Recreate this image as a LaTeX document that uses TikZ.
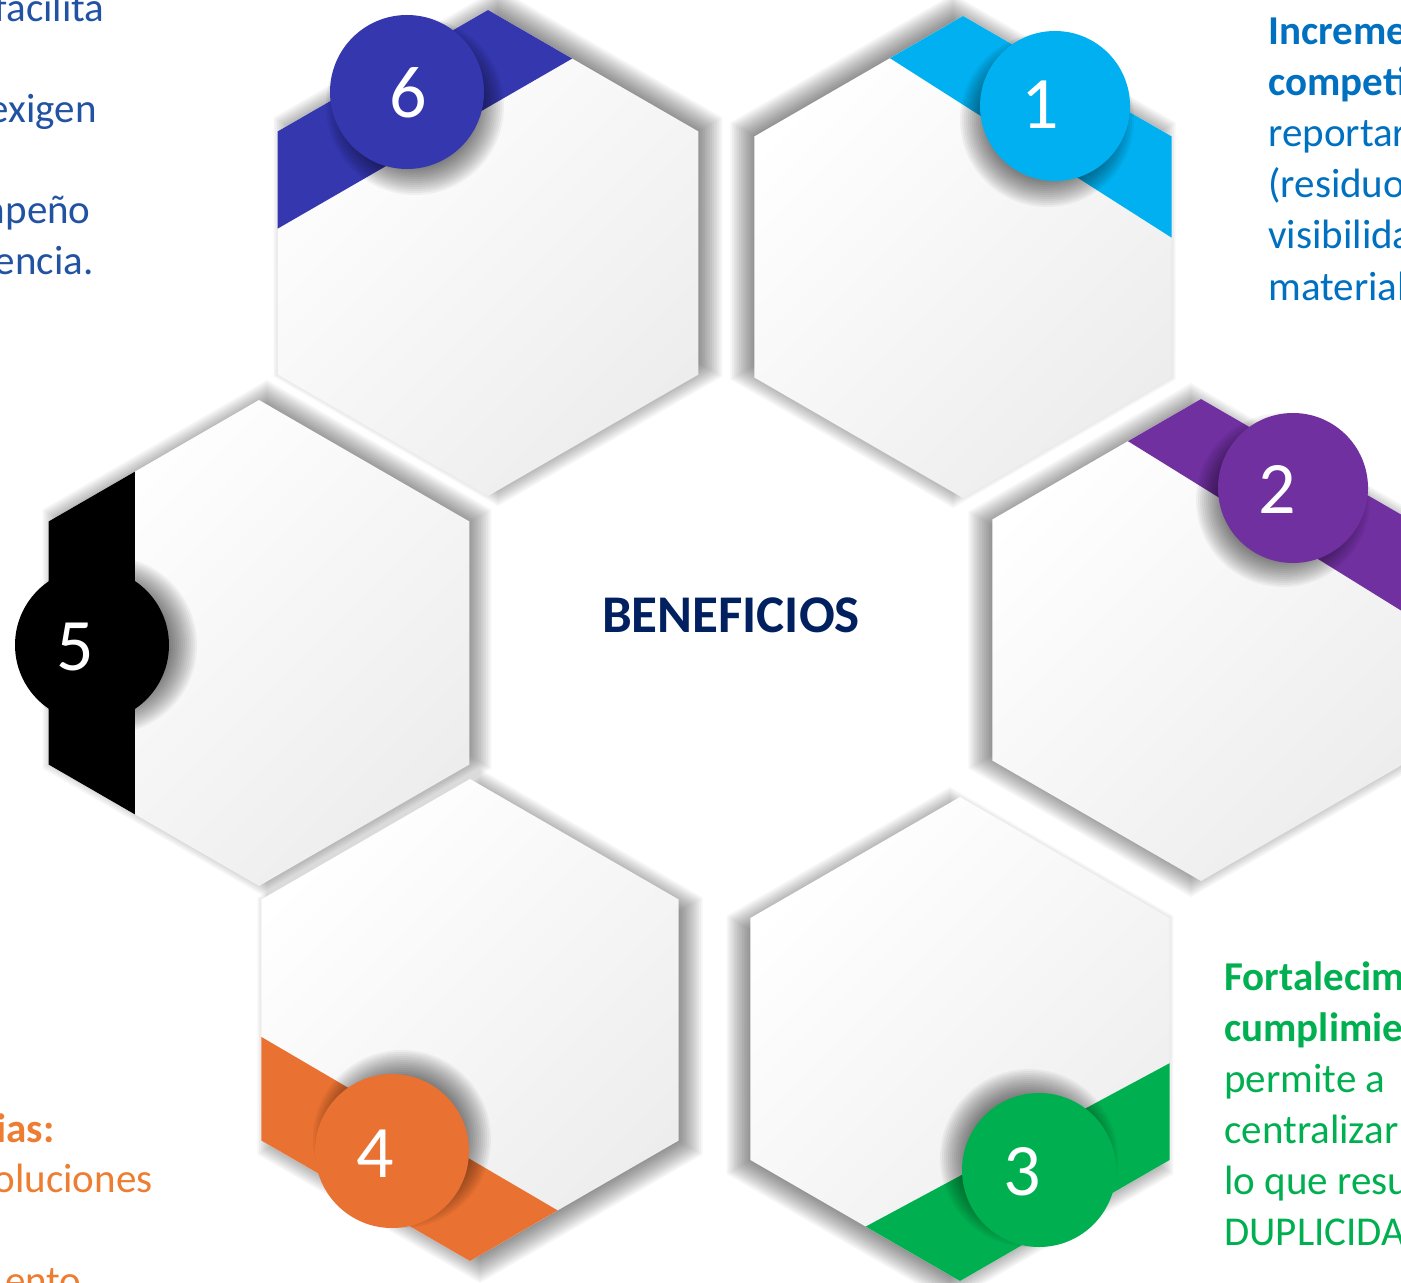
\documentclass[tikz,border=0pt]{standalone}
\usepackage{fontspec}
\setmainfont{Carlito}
\usetikzlibrary{calc}
\definecolor{tlblue}{HTML}{2252A2}
\definecolor{trblue}{HTML}{0070C0}
\definecolor{grntxt}{HTML}{00B050}
\definecolor{orgtxt}{HTML}{ED7D31}
\definecolor{navy}{HTML}{002060}
\definecolor{csix}{HTML}{3437AE}
\definecolor{cone}{HTML}{00B0F0}
\definecolor{ctwo}{HTML}{7030A0}
\definecolor{cthree}{HTML}{00B050}
\definecolor{cfour}{HTML}{E97132}
\definecolor{cfive}{HTML}{000000}
\newcommand\defhex[4]{%
  \coordinate (#1-T)  at ({#2},{#3-#4});
  \coordinate (#1-TR) at ({#2+0.866*#4},{#3-0.5*#4});
  \coordinate (#1-BR) at ({#2+0.866*#4},{#3+0.5*#4});
  \coordinate (#1-B)  at ({#2},{#3+#4});
  \coordinate (#1-BL) at ({#2-0.866*#4},{#3+0.5*#4});
  \coordinate (#1-TL) at ({#2-0.866*#4},{#3-0.5*#4});}
\newcommand\hexpath[1]{(#1-T) -- (#1-TR) -- (#1-BR) -- (#1-B) -- (#1-BL) -- (#1-TL) -- cycle}
\newcommand\hexp[3]{({#1},{#2-(#3)}) -- ({#1+0.866*(#3)},{#2-0.5*(#3)}) -- ({#1+0.866*(#3)},{#2+0.5*(#3)}) -- ({#1},{#2+(#3)}) -- ({#1-0.866*(#3)},{#2+0.5*(#3)}) -- ({#1-0.866*(#3)},{#2-0.5*(#3)}) -- cycle}
\newcommand\hexshadow[5]{%
  \foreach \k in {0,...,15}{\fill[black,opacity=0.035] \hexp{#1+#4}{#2+#5}{#3+16-2*\k};}}
\newcommand\circshadow[5]{%
  \foreach \k in {0,...,13}{\fill[black,opacity=0.045] ({#1+#4},{#2+#5}) circle ({(#3+12-2*\k)*0.5pt});}}
\begin{document}
\begin{tikzpicture}[x=0.5pt,y=-0.5pt,
  hexfill/.style={top color=white,bottom color=black!7,shading angle=45},
  numtxt/.style={inner sep=0pt,anchor=base,text=white,font=\fontsize{37}{40}\selectfont},
  bodytxt/.style={inner sep=0pt,font=\fontsize{20.5}{25.5}\selectfont},
  boldtxt/.style={bodytxt,font=\fontsize{20.5}{25.5}\selectfont\bfseries}]
\useasboundingbox (0,0) rectangle (1401,1283);
\clip (0,0) rectangle (1401,1283);
\fill[white] (0,0) rectangle (1401,1283);
% hexagon geometry
\defhex{h6}{488}{253}{243}
\defhex{h1}{963}{257}{241}
\defhex{h2}{1201}{640}{241}
\defhex{h3}{960}{1039}{242}
\defhex{h4}{470}{1020}{241}
\defhex{h5}{259}{643}{243}
% hexagon shadows
\hexshadow{488}{253}{243}{10}{-6}
\hexshadow{963}{257}{241}{-10}{-6}
\hexshadow{1201}{640}{241}{-10}{0}
\hexshadow{960}{1039}{242}{-10}{6}
\hexshadow{470}{1020}{241}{10}{6}
\hexshadow{259}{643}{243}{8}{-4}
% hexagons
\foreach \h in {h6,h1,h2,h3,h4,h5}{\shade[hexfill] \hexpath{\h};}
% ribbons
\fill[csix] (h6-TL) -- (h6-T) -- ($(h6-T)!0.4!(h6-TR)$) -- ($(h6-TL)!0.4!(h6-BL)$) -- cycle;
\fill[cone] (h1-T) -- (h1-TR) -- ($(h1-TR)!0.42!(h1-BR)$) -- ($(h1-T)!0.35!(h1-TL)$) -- cycle;
\fill[ctwo] (h2-T) -- (h2-TR) -- ($(h2-TR)!0.4!(h2-BR)$) -- ($(h2-T)!0.35!(h2-TL)$) -- cycle;
\fill[cthree] (h3-BR) -- (h3-B) -- ($(h3-B)!0.45!(h3-BL)$) -- ($(h3-BR)!0.4!(h3-TR)$) -- cycle;
\fill[cfour] (h4-B) -- (h4-BL) -- ($(h4-BL)!0.43!(h4-TL)$) -- ($(h4-B)!0.42!(h4-BR)$) -- cycle;
\fill[cfive] (h5-BL) -- (h5-TL) -- ($(h5-TL)!0.41!(h5-T)$) -- ($(h5-BL)!0.41!(h5-B)$) -- cycle;
% circle shadows
\circshadow{407}{92}{77}{8}{14}
\circshadow{1055}{106}{75}{-8}{14}
\circshadow{1293}{488}{75}{-10}{12}
\circshadow{1039}{1170}{77}{-10}{-12}
\circshadow{392}{1151}{77}{10}{-12}
\circshadow{92}{645}{77}{16}{0}
% circles
\fill[csix] (407,92) circle (38.5pt);
\fill[cone] (1055,106) circle (37.5pt);
\fill[ctwo] (1293,488) circle (37.5pt);
\fill[cthree] (1039,1170) circle (38.5pt);
\fill[cfour] (392,1151) circle (38.5pt);
\fill[cfive] (92,645) circle (38.5pt);
% numbers
\node[numtxt] (n6) at (408,118) {6};
\node[numtxt] (n1) at (1040,129) {1};
\node[numtxt] (n2) at (1277,513) {2};
\node[numtxt] (n3) at (1022,1195) {3};
\node[numtxt] (n4) at (375,1177) {4};
\node[numtxt] (n5) at (75,670) {5};
% centre title
\node[inner sep=0pt,anchor=base,text=navy,font=\fontsize{26.5}{30}\selectfont\bfseries] (title) at (731,632) {BENEFICIOS};
% top-left text (cut at left edge)
\node[bodytxt,text=tlblue,anchor=base east] (tl1) at (105,22) {facilita};
\node[bodytxt,text=tlblue,anchor=base east] (tl2) at (97,123) {exigen};
\node[bodytxt,text=tlblue,anchor=base east] (tl3) at (91,224) {mpeño};
\node[bodytxt,text=tlblue,anchor=base east] (tl4) at (94,275) {encia.};
% top-right text (cut at right edge)
\node[boldtxt,text=trblue,anchor=base west] (tr1) at (1268,45) {Incremento};
\node[boldtxt,text=trblue,anchor=base west] (tr2) at (1268,96) {competitividad};
\node[bodytxt,text=trblue,anchor=base west] (tr3) at (1268,147) {reportar};
\node[bodytxt,text=trblue,anchor=base west] (tr4) at (1268,198) {(residuos};
\node[bodytxt,text=trblue,anchor=base west] (tr5) at (1268,249) {visibilidad};
\node[bodytxt,text=trblue,anchor=base west] (tr6) at (1268,300) {materiales};
% bottom-right text
\node[boldtxt,text=grntxt,anchor=base west] (br1) at (1224,990) {Fortalecimiento};
\node[boldtxt,text=grntxt,anchor=base west] (br2) at (1224,1041) {cumplimiento};
\node[bodytxt,text=grntxt,anchor=base west] (br3) at (1224,1092) {permite a};
\node[bodytxt,text=grntxt,anchor=base west] (br4) at (1224,1143) {centralizar};
\node[bodytxt,text=grntxt,anchor=base west] (br5) at (1224,1194) {lo que resulta};
\node[bodytxt,text=grntxt,anchor=base west] (br6) at (1224,1245) {DUPLICIDAD};
% bottom-left text
\node[boldtxt,text=orgtxt,anchor=base east] (bl1) at (55,1142) {ias:};
\node[bodytxt,text=orgtxt,anchor=base east] (bl2) at (153,1192) {oluciones};
\node[bodytxt,text=orgtxt,anchor=base east] (bl3) at (82,1294) {ento};
\end{tikzpicture}
\end{document}
